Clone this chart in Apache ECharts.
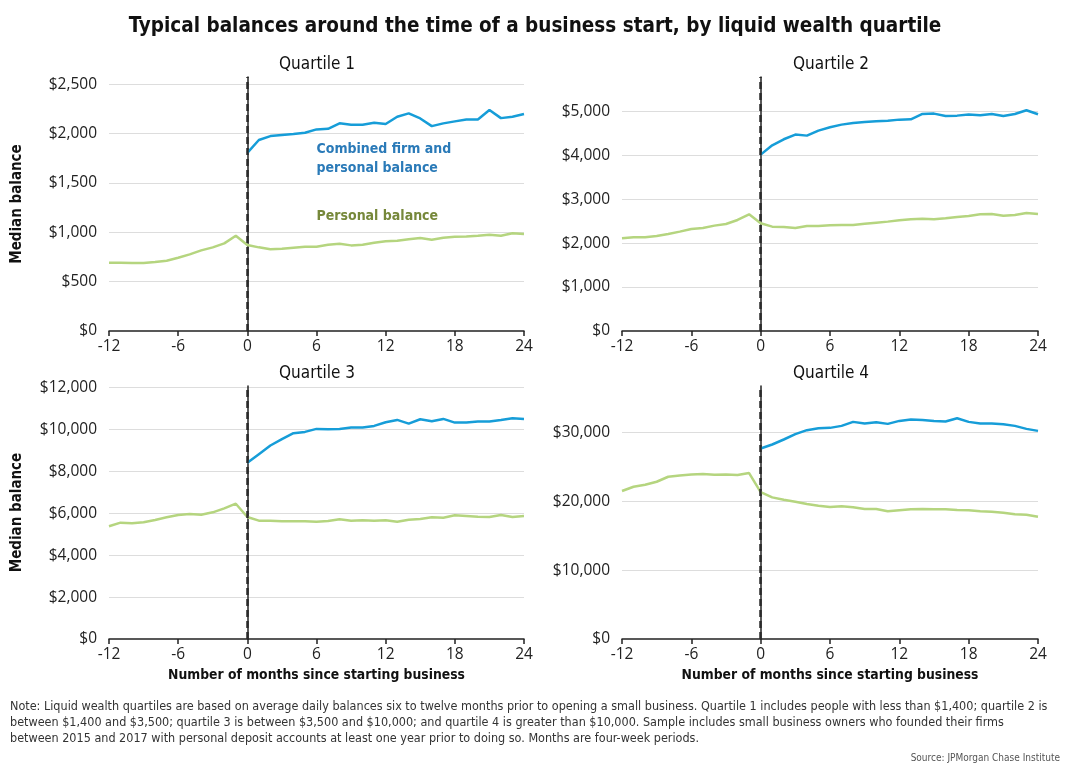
<!DOCTYPE html>
<html>
<head>
<meta charset="utf-8">
<script src="https://cdn.jsdelivr.net/npm/echarts@6/dist/echarts.min.js"></script>
<style>
  html, body { margin: 0; padding: 0; background: #fff; }
  #chart { width: 1070px; height: 770px; }
</style>
</head>
<body>
<div id="chart"></div>
<script>
// ---------- DATA ----------
const monthsAll = [-12,-11,-10,-9,-8,-7,-6,-5,-4,-3,-2,-1,0,1,2,3,4,5,6,7,8,9,10,11,12,13,14,15,16,17,18,19,20,21,22,23,24];
const monthsPost = [0,1,2,3,4,5,6,7,8,9,10,11,12,13,14,15,16,17,18,19,20,21,22,23,24];
const xTicks = [-12, -6, 0, 6, 12, 18, 24];

const panelTitles = ['Quartile 1', 'Quartile 2', 'Quartile 3', 'Quartile 4'];

// Quartile 1
const q1Personal = [692,692,689,689,699,713,743,777,817,848,888,966,871,848,828,834,845,855,855,875,885,868,875,895,909,915,929,942,926,946,956,959,966,976,966,990,983];
const q1Combined = [1805,1936,1976,1986,1996,2010,2044,2050,2105,2091,2091,2111,2098,2172,2206,2155,2077,2105,2125,2145,2145,2240,2158,2172,2199];
// Quartile 2
const q2Personal = [2109,2132,2132,2162,2208,2261,2322,2344,2398,2435,2526,2655,2451,2375,2367,2344,2390,2390,2405,2413,2413,2443,2466,2489,2519,2542,2557,2542,2564,2595,2618,2655,2663,2625,2640,2686,2663];
const q2Combined = [4013,4226,4363,4469,4446,4560,4636,4696,4734,4757,4772,4787,4810,4818,4939,4947,4894,4901,4924,4909,4939,4894,4939,5023,4932];
// Quartile 3
const q3Personal = [5381,5556,5524,5571,5683,5810,5921,5968,5937,6048,6238,6460,5825,5651,5651,5619,5619,5619,5603,5635,5714,5651,5667,5651,5667,5603,5698,5730,5810,5794,5905,5873,5841,5825,5921,5825,5873];
const q3Combined = [8413,8825,9238,9540,9825,9889,10032,10016,10032,10095,10095,10175,10349,10460,10286,10492,10397,10508,10333,10333,10381,10381,10460,10540,10508];
// Quartile 4
const q4Personal = [21498,22126,22416,22851,23575,23769,23913,23962,23865,23913,23817,24107,21353,20580,20242,19952,19614,19372,19179,19276,19131,18889,18889,18551,18696,18841,18889,18841,18841,18744,18696,18551,18503,18358,18116,18068,17778];
const q4Combined = [27682,28261,28986,29759,30339,30629,30677,30967,31546,31305,31498,31257,31691,31885,31836,31691,31595,32078,31546,31305,31305,31208,30967,30532,30242];

// y-axis scale settings per panel: [max, interval]
const yMax = [2575, 5780, 12080, 36760];
const yInterval = [500, 1000, 2000, 10000];

const titleText = 'Typical balances around the time of a business start, by liquid wealth quartile';
const combinedLabel = 'Combined firm and\npersonal balance';
const personalLabel = 'Personal balance';
const yName = 'Median balance';
const xName = 'Number of months since starting business';
const noteText = 'Note: Liquid wealth quartiles are based on average daily balances six to twelve months prior to opening a small business. Quartile 1 includes people with less than $1,400; quartile 2 is\nbetween $1,400 and $3,500; quartile 3 is between $3,500 and $10,000; and quartile 4 is greater than $10,000. Sample includes small business owners who founded their firms\nbetween 2015 and 2017 with personal deposit accounts at least one year prior to doing so. Months are four-week periods.';
const sourceText = 'Source: JPMorgan Chase Institute';

// ---------- STYLE ----------
const BLUE = '#169dd8';
const GREEN = '#b5d57f';
const NARROW = "'DejaVu Sans Condensed', 'Liberation Sans Narrow', sans-serif";
const TICKFONT = "'Open Sans', 'Noto Sans', sans-serif";

const personal = [q1Personal, q2Personal, q3Personal, q4Personal];
const combined = [q1Combined, q2Combined, q3Combined, q4Combined];

const grids = [
  { left: 109, top: 77, width: 415, height: 254 },
  { left: 622, top: 77, width: 416, height: 254 },
  { left: 109, top: 386, width: 415, height: 253 },
  { left: 622, top: 386, width: 416, height: 253 }
];

function fmtMoney(v) {
  return '$' + Math.round(v).toLocaleString('en-US');
}

const xAxes = grids.map((g, i) => ({
  type: 'value',
  gridIndex: i,
  min: xTicks[0],
  max: xTicks[xTicks.length - 1],
  interval: xTicks[1] - xTicks[0],
  name: i >= 2 ? xName : '',
  nameLocation: 'middle',
  nameGap: 29,
  nameTextStyle: { fontFamily: NARROW, fontWeight: 'bold', fontSize: 13.8, color: '#111' },
  axisLine: { show: true, onZero: false, lineStyle: { color: '#222', width: 1.5 } },
  axisTick: { show: true, length: 5, lineStyle: { color: '#222', width: 1.5 } },
  axisLabel: { fontFamily: TICKFONT, fontSize: 15.5, color: '#222', margin: 8 },
  splitLine: { show: false }
}));

const yAxes = grids.map((g, i) => ({
  type: 'value',
  gridIndex: i,
  min: 0,
  max: yMax[i],
  interval: yInterval[i],
  name: (i === 0 || i === 2) ? yName : '',
  nameLocation: 'middle',
  nameGap: 84,
  nameTextStyle: { fontFamily: NARROW, fontWeight: 'bold', fontSize: 15, color: '#111' },
  axisLine: { show: true, lineStyle: { color: '#222', width: 1.5 } },
  axisTick: { show: false },
  axisLabel: {
    fontFamily: TICKFONT, fontSize: 15.5, color: '#222', margin: 12,
    showMaxLabel: false,
    formatter: v => fmtMoney(v)
  },
  splitLine: { show: true, showMinLine: false, showMaxLine: false, lineStyle: { color: '#dddddd', width: 1 } }
}));

const series = [];
for (let i = 0; i < 4; i++) {
  series.push({
    type: 'line',
    name: 'Personal balance',
    xAxisIndex: i, yAxisIndex: i,
    data: monthsAll.map((m, k) => [m, personal[i][k]]),
    showSymbol: false,
    lineStyle: { color: GREEN, width: 2.5 },
    itemStyle: { color: GREEN },
    z: 3,
    markLine: {
      silent: true,
      symbol: ['none', 'none'],
      label: { show: false },
      lineStyle: { color: '#2a2a2a', type: [7, 4], width: 2.5 },
      data: [{ xAxis: 0 }],
      animation: false
    },
    ...(i === 0 ? {
      markPoint: {
        silent: true,
        symbolSize: 0,
        label: {
          show: true, position: 'right', distance: 0,
          fontFamily: NARROW, fontWeight: 'bold', fontSize: 14, color: '#76883a',
          formatter: personalLabel
        },
        data: [{ coord: [6, 1164] }]
      }
    } : {})
  });
  series.push({
    type: 'line',
    name: 'Combined firm and personal balance',
    xAxisIndex: i, yAxisIndex: i,
    data: monthsPost.map((m, k) => [m, combined[i][k]]),
    showSymbol: false,
    lineStyle: { color: BLUE, width: 2.5 },
    itemStyle: { color: BLUE },
    z: 4,
    ...(i === 0 ? {
      markPoint: {
        silent: true,
        symbolSize: 0,
        label: {
          show: true, position: 'right', distance: 0,
          fontFamily: NARROW, fontWeight: 'bold', fontSize: 14, color: '#2a7ab8',
          lineHeight: 19,
          formatter: combinedLabel
        },
        data: [{ coord: [6, 1741] }]
      }
    } : {})
  });
}

const titles = [
  { text: titleText, left: 'center', top: 11,
    textStyle: { fontFamily: NARROW, fontWeight: 'bold', fontSize: 20.5, color: '#111' } },
  { text: panelTitles[0], left: 312, top: 51, textAlign: 'center',
    textStyle: { fontFamily: NARROW, fontWeight: 'normal', fontSize: 17, color: '#111' } },
  { text: panelTitles[1], left: 826, top: 51, textAlign: 'center',
    textStyle: { fontFamily: NARROW, fontWeight: 'normal', fontSize: 17, color: '#111' } },
  { text: panelTitles[2], left: 312, top: 360, textAlign: 'center',
    textStyle: { fontFamily: NARROW, fontWeight: 'normal', fontSize: 17, color: '#111' } },
  { text: panelTitles[3], left: 826, top: 360, textAlign: 'center',
    textStyle: { fontFamily: NARROW, fontWeight: 'normal', fontSize: 17, color: '#111' } },
  { text: noteText, left: 5, top: 694,
    textStyle: { fontFamily: NARROW, fontWeight: 'normal', fontSize: 12.5, lineHeight: 16, color: '#333' } },
  { text: sourceText, right: 5, top: 748,
    textStyle: { fontFamily: NARROW, fontWeight: 'normal', fontSize: 10, color: '#555' } }
];

const chart = echarts.init(document.getElementById('chart'), null, { renderer: 'canvas' });
chart.setOption({
  backgroundColor: '#ffffff',
  animation: false,
  title: titles,
  grid: grids,
  xAxis: xAxes,
  yAxis: yAxes,
  series: series
});
</script>
</body>
</html>
